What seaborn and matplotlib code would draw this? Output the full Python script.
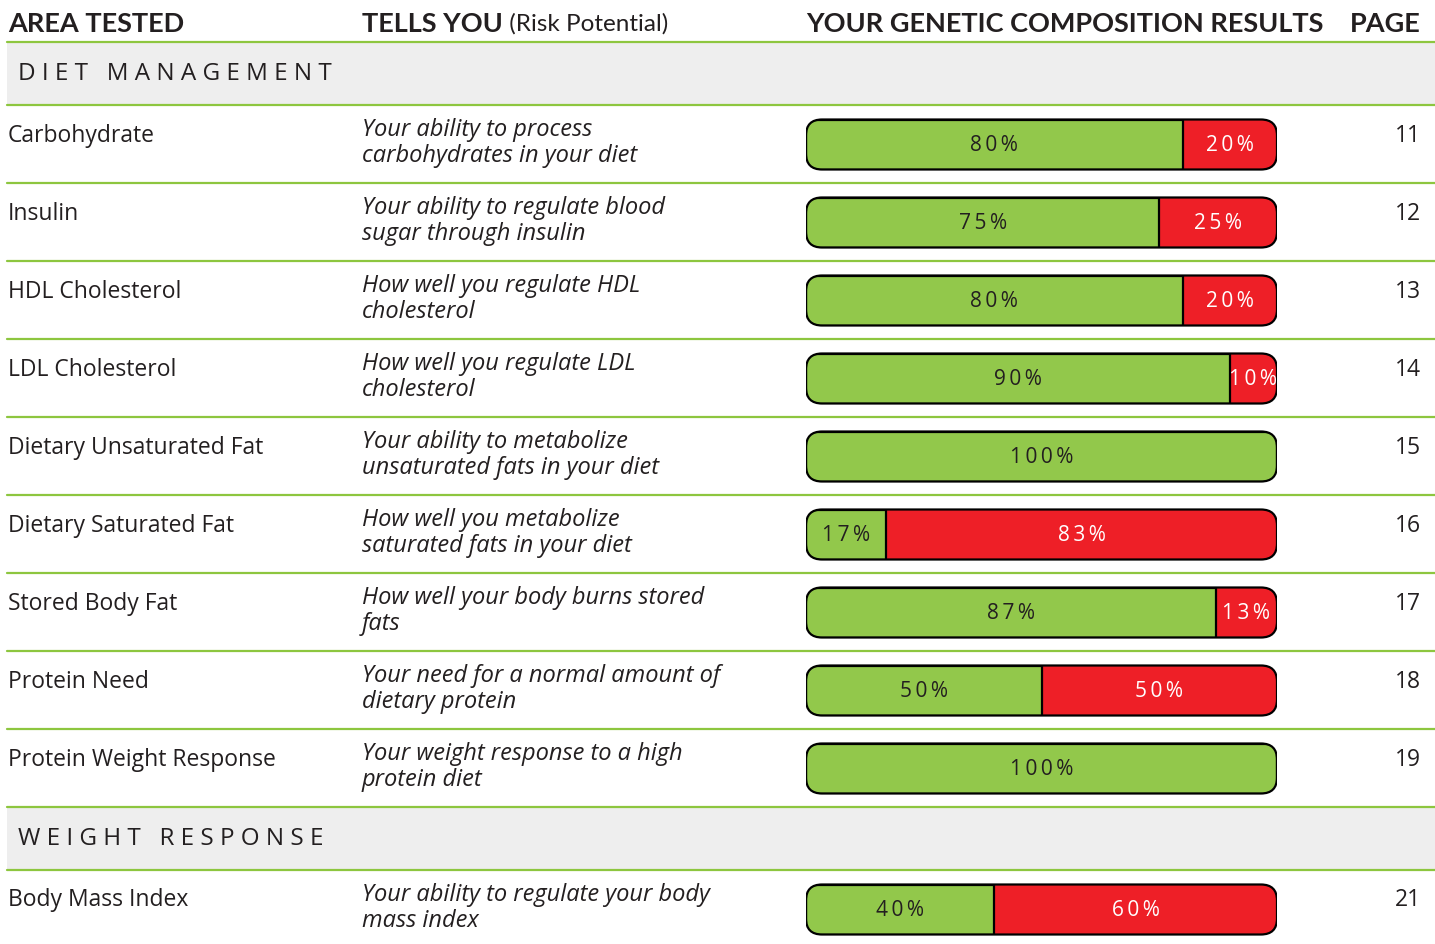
import pandas as pd
import matplotlib.pyplot as plt
import seaborn as sns
from matplotlib.patches import FancyBboxPatch

sns.set_theme(style="white")
plt.rcParams['font.family'] = ['Open Sans', 'DejaVu Sans']

# ---- data ----
areas = ["Carbohydrate", "Insulin", "HDL Cholesterol", "LDL Cholesterol",
         "Dietary Unsaturated Fat", "Dietary Saturated Fat", "Stored Body Fat",
         "Protein Need", "Protein Weight Response", "Body Mass Index"]
descriptions = [
    "Your ability to process\ncarbohydrates in your diet",
    "Your ability to regulate blood\nsugar through insulin",
    "How well you regulate HDL\ncholesterol",
    "How well you regulate LDL\ncholesterol",
    "Your ability to metabolize\nunsaturated fats in your diet",
    "How well you metabolize\nsaturated fats in your diet",
    "How well your body burns stored\nfats",
    "Your need for a normal amount of\ndietary protein",
    "Your weight response to a high\nprotein diet",
    "Your ability to regulate your body\nmass index",
]
green_pct = [80, 75, 80, 90, 100, 17, 87, 50, 100, 40]
red_pct = [20, 25, 20, 10, 0, 83, 13, 50, 0, 60]
pages = [11, 12, 13, 14, 15, 16, 17, 18, 19, 21]
sections = ["DIET MANAGEMENT", "WEIGHT RESPONSE"]
row_section = [0, 0, 0, 0, 0, 0, 0, 0, 0, 1]
headers = ["AREA TESTED", "TELLS YOU", "YOUR GENETIC COMPOSITION RESULTS", "PAGE"]

# ---- layout (pixels) ----
W, H = 1435, 945
GREEN = "#92c84b"
RED = "#ee1f27"
LINE = "#8dc63f"
BAND = "#eeeeee"
TEXT = "#231f20"
top_line = 42.5
band_h = 63
row_h = 78
bar_h = 50
bar_x0, bar_x1 = 806, 1277

fig = plt.figure(figsize=(W / 100, H / 100), dpi=100)
bg = fig.add_axes([0, 0, 1, 1])
bg.set_xlim(0, W)
bg.set_ylim(H, 0)
bg.axis('off')

# header row
hfont = dict(family=['Lato', 'DejaVu Sans'], fontsize=19.5, fontweight='bold', color=TEXT, va='center')
bg.text(8, 24, headers[0], ha='left', **hfont)
t = bg.text(362, 24, headers[1], ha='left', **hfont)
bg.annotate(" (Risk Potential)", xycoords=t, xy=(1, 0.5), va='center', ha='left',
            family=['Lato', 'DejaVu Sans'], fontsize=17.5, color=TEXT)
bg.text(806, 24, headers[2], ha='left', **hfont)
bg.text(1421, 24, headers[3], ha='right', **hfont)

# compute row tops, draw bands / lines / text
row_top = []
y = top_line
current = None
bg.plot([7, W], [y, y], color=LINE, lw=1.6)
for i, area in enumerate(areas):
    sec = row_section[i]
    if sec != current:
        bg.add_patch(plt.Rectangle((7, y), W - 7, band_h, color=BAND, lw=0, zorder=0))
        bg.text(18, y + band_h / 2, "   ".join(" ".join(w) for w in sections[sec].split()),
                ha='left', va='center', fontsize=17.5, color=TEXT)
        y += band_h
        bg.plot([7, W], [y, y], color=LINE, lw=1.6)
        current = sec
    row_top.append(y)
    bg.text(8, y + 30, area, ha='left', va='center', fontsize=16.5, color=TEXT)
    for k, line in enumerate(descriptions[i].split("\n")):
        bg.text(362, y + 24.5 + 26 * k, line, ha='left', va='center', fontsize=17,
                style='italic', color=TEXT)
    bg.text(1421, y + 30, str(pages[i]), ha='right', va='center', fontsize=16.5, color=TEXT)
    y += row_h
    if i < len(areas) - 1:
        bg.plot([7, W], [y, y], color=LINE, lw=1.6)

df = pd.DataFrame({
    "area": areas,
    "yc": [t + 40 for t in row_top],
    "green": green_pct,
    "total": [g + r for g, r in zip(green_pct, red_pct)],
})

# ---- bars ----
bar_ax = fig.add_axes([bar_x0 / W, 0, (bar_x1 - bar_x0) / W, 1])
sns.barplot(data=df, x="total", y="yc", orient="h", native_scale=True,
            width=bar_h / row_h, color=RED, saturation=1, linewidth=0, ax=bar_ax)
sns.barplot(data=df, x="green", y="yc", orient="h", native_scale=True,
            width=bar_h / row_h, color=GREEN, saturation=1, edgecolor="black",
            linewidth=1.6, ax=bar_ax)
bar_ax.set_xlim(0, 100)
bar_ax.set_ylim(H, 0)
bar_ax.axis('off')
bar_ax.patch.set_alpha(0)

px_per_unit = (bar_x1 - bar_x0) / 100
radius = 16
n = len(df)
boxes = []
for yc in df["yc"]:
    kw = dict(boxstyle=f"round,pad=0,rounding_size={radius / px_per_unit}",
              mutation_aspect=px_per_unit, transform=bar_ax.transData)
    clip = FancyBboxPatch((0, yc - bar_h / 2), 100, bar_h, **kw)
    boxes.append(clip)
    bar_ax.add_patch(FancyBboxPatch((0, yc - bar_h / 2), 100, bar_h, facecolor='none',
                                    edgecolor='black', lw=1.6, zorder=5, **kw))
for j, p in enumerate(bar_ax.patches[:2 * n]):
    p.set_clip_path(boxes[j % n])

sp = "\u2009"
for _, r in df.iterrows():
    g, tot = r["green"], r["total"]
    if g > 0:
        bar_ax.text(g / 2, r["yc"], sp.join(f"{g}%"), ha='center', va='center',
                    fontsize=15, color=TEXT, zorder=6)
    if tot - g > 0:
        bar_ax.text((g + tot) / 2, r["yc"], sp.join(f"{tot - g}%"), ha='center',
                    va='center', fontsize=15, color='white', zorder=6)

fig.savefig("out.png", dpi=100)
